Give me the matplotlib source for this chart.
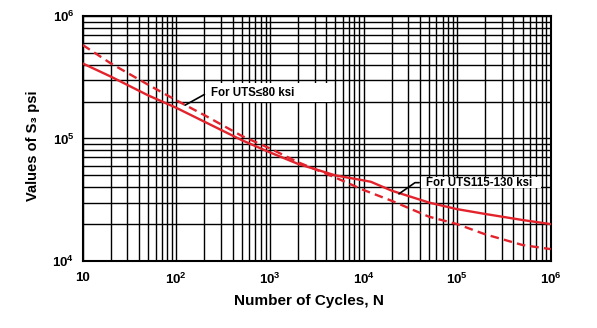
import numpy as np
import matplotlib
matplotlib.use('Agg')
import matplotlib.pyplot as plt
from matplotlib.patches import Rectangle

plt.rcParams['font.family'] = ['Liberation Sans', 'DejaVu Sans']
plt.rcParams['font.weight'] = 'bold'
plt.rcParams['mathtext.fontset'] = 'custom'
plt.rcParams['mathtext.rm'] = 'Liberation Sans:bold'
plt.rcParams['mathtext.bf'] = 'Liberation Sans:bold'
plt.rcParams['mathtext.it'] = 'Liberation Sans:bold'

# curva UTS <= 80 ksi (tracejada)
ciclos_80 = [10, 20, 50, 100, 200, 500, 1e3, 2e3, 5e3, 1e4, 2e4, 5e4, 1e5, 2e5, 5e5, 1e6]
tensao_80 = [580e3, 410e3, 275e3, 205e3, 155e3, 105e3, 83e3, 64e3, 48e3, 38e3, 31e3,
             23e3, 20e3, 16.5e3, 13.5e3, 12.5e3]

# curva UTS 115-130 ksi (continua)
ciclos_130 = [10, 20, 50, 100, 200, 500, 1e3, 2e3, 5e3, 1e4, 1.2e4, 2e4, 5e4, 1e5, 2e5, 5e5, 1e6]
tensao_130 = [410e3, 320e3, 225e3, 178e3, 137e3, 97e3, 77e3, 62e3, 50e3, 45.5e3, 44.3e3,
              37.5e3, 30e3, 26.5e3, 24.2e3, 21.6e3, 20e3]

xticks = [10, 1e2, 1e3, 1e4, 1e5, 1e6]
xlabels = ['10', r'$\mathbf{10^{2}}$', r'$\mathbf{10^{3}}$', r'$\mathbf{10^{4}}$',
           r'$\mathbf{10^{5}}$', r'$\mathbf{10^{6}}$']
yticks = [1e4, 1e5, 1e6]
ylabels = [r'$\mathbf{10^{4}}$', r'$\mathbf{10^{5}}$', r'$\mathbf{10^{6}}$']

vermelho = '#e3232c'

fig = plt.figure(figsize=(5.97, 3.28), dpi=100)
ax = fig.add_axes([0.1385, 0.2043, 0.784, 0.7469])

ax.set_xscale('log')
ax.set_yscale('log')
ax.set_xlim(10, 1e6)
ax.set_ylim(1e4, 1e6)

ax.grid(True, which='both', color='black', lw=1.0, zorder=1)
ax.set_axisbelow(True)
ax.tick_params(which='both', length=0)
ax.set_xticks(xticks)
ax.set_xticklabels(xlabels, fontsize=9.5)
ax.set_yticks(yticks)
ax.set_yticklabels(ylabels, fontsize=9.5)
ax.tick_params(axis='x', pad=8)
ax.tick_params(axis='y', pad=6)
for s in ax.spines.values():
    s.set_linewidth(1.5)

# caixas brancas atras dos textos
ax.add_patch(Rectangle((0.261, 0.649), 0.272, 0.076, transform=ax.transAxes,
                       facecolor='white', edgecolor='none', zorder=2))
ax.add_patch(Rectangle((0.723, 0.298), 0.256, 0.043, transform=ax.transAxes,
                       facecolor='white', edgecolor='none', zorder=2))

ax.plot(ciclos_80, tensao_80, color=vermelho, lw=1.7, ls=(0, (3.6, 2.2)), zorder=3)
ax.plot(ciclos_130, tensao_130, color=vermelho, lw=1.7, zorder=3)

ax.annotate('For UTS\u226480 ksi', xy=(124, 1.87e5), xytext=(236, 2.35e5),
            fontsize=8.3, fontweight='bold', ha='left', va='center', zorder=4,
            arrowprops=dict(arrowstyle='-', color='black', lw=1.2, shrinkA=3, shrinkB=0,
                            connectionstyle='angle,angleA=0,angleB=29,rad=0'))
ax.annotate('For UTS115-130 ksi', xy=(2.39e4, 3.53e4), xytext=(4.66e4, 4.36e4),
            fontsize=8.3, fontweight='bold', ha='left', va='center', zorder=4,
            arrowprops=dict(arrowstyle='-', color='black', lw=1.2, shrinkA=3, shrinkB=0,
                            connectionstyle='angle,angleA=0,angleB=35,rad=0'))

fig.text(309 / 597, 1 - 301 / 328, 'Number of Cycles, N', fontsize=11, fontweight='bold',
         ha='center', va='center')
fig.text(33 / 597, 1 - 146 / 328, 'Values of S\u2083 psi', fontsize=10.5, fontweight='bold',
         ha='center', va='center', rotation=90)

fig.savefig('out.png', dpi=100)
